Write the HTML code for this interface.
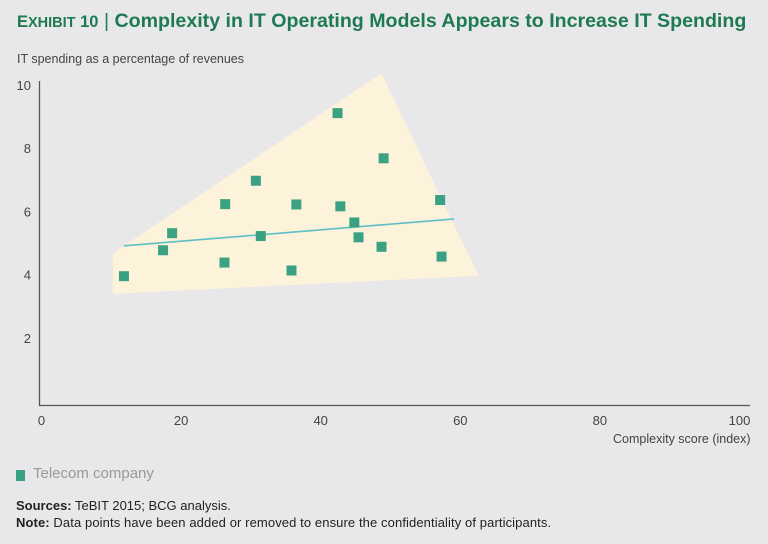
<!DOCTYPE html>
<html><head><meta charset="utf-8"><style>
body{margin:0;background:#e8e8ea;font-family:"Liberation Sans",sans-serif;}
#wrap{position:relative;width:768px;height:544px;overflow:hidden;background:#e8e8ea;}
.t{position:absolute;white-space:nowrap;}
</style></head><body>
<div id="wrap">
<div class="t" style="left:17px;top:10px;font-size:19.6px;font-weight:bold;color:#1e7a52;"><span style="font-size:16.5px">E<span style="font-size:14.5px">XHIBIT</span> 10</span> <span style="font-weight:normal">|</span> Complexity in IT Operating Models Appears to Increase IT Spending</div>
<div class="t" style="left:17px;top:52px;font-size:12.5px;color:#444;">IT spending as a percentage of revenues</div>
<svg id="chart" width="768" height="544" style="position:absolute;left:0;top:0"></svg>
<div class="t" style="left:613px;top:432px;font-size:12.5px;color:#444;">Complexity score (index)</div>
<div style="position:absolute;left:16px;top:470px;width:9px;height:11px;background:#3aa283;"></div>
<div class="t" style="left:33px;top:465px;font-size:15px;color:#999;">Telecom company</div>
<div class="t" style="left:16px;top:498px;font-size:13px;color:#222;"><b>Sources:</b> TeBIT 2015; BCG analysis.</div>
<div class="t" style="left:16px;top:515px;font-size:13px;color:#222;letter-spacing:0.1px;"><b>Note:</b> Data points have been added or removed to ensure the confidentiality of participants.</div>
</div>
<script>
const xs=[12.1,17.7,19.0,26.6,26.5,31.0,31.7,36.8,36.1,42.7,43.1,45.1,45.7,49.3,49.0,57.4,57.6];
const ys=[3.95,4.77,5.31,6.23,4.38,6.97,5.22,6.22,4.13,9.11,6.16,5.65,5.18,7.68,4.88,6.36,4.57];
const trendX=[12.1,59.4];
const trendY=[4.91,5.76];
const polyX=[10.5,49.0,62.9,10.5];
const polyY=[4.67,10.37,3.96,3.39];
const xTicks=[0,20,40,60,80,100];
const yTicks=[2,4,6,8,10];
const NS='http://www.w3.org/2000/svg';
const svg=document.getElementById('chart');
const X=v=>39.5+v*6.98;
const Y=v=>401-v*31.6;
function mk(t,a){const e=document.createElementNS(NS,t);for(const k in a)e.setAttribute(k,a[k]);svg.appendChild(e);return e;}
const poly=mk('polygon',{points:polyX.map((x,i)=>X(x)+','+Y(polyY[i])).join(' '),fill:'#fdf2da'});


const ax=mk('path',{d:`M39.5 81 V405.5 H750`,stroke:'#555',fill:'none','stroke-width':1.3});


xTicks.forEach(v=>{const t=mk('text',{x:X(v)+2,y:425,'text-anchor':'middle','font-size':13,fill:'#444','font-family':'Liberation Sans, sans-serif'});t.textContent=v;

});
yTicks.forEach(v=>{const t=mk('text',{x:31,y:Y(v)+5,'text-anchor':'end','font-size':13,fill:'#444','font-family':'Liberation Sans, sans-serif'});t.textContent=v;

});
const tl=mk('line',{x1:X(trendX[0]),y1:Y(trendY[0]),x2:X(trendX[1]),y2:Y(trendY[1]),stroke:'#5cc0c4','stroke-width':1.6});


xs.forEach((x,i)=>{const r=mk('rect',{x:X(x)-5,y:Y(ys[i])-5,width:10,height:10,fill:'#3aa283'});

});
</script>
</body></html>
